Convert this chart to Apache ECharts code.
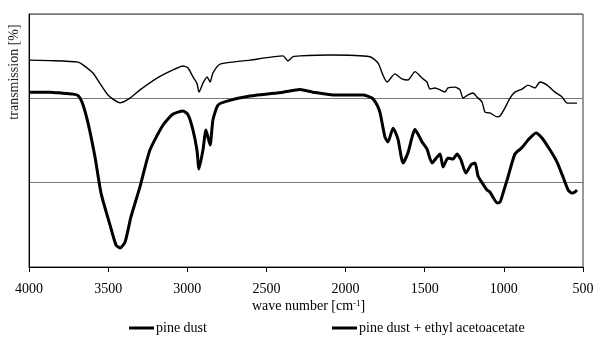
<!DOCTYPE html>
<html>
<head>
<meta charset="utf-8">
<script src="https://cdn.jsdelivr.net/npm/echarts@6/dist/echarts.min.js"></script>
<style>
  html, body { margin: 0; padding: 0; background: #fff; }
  #chart { width: 600px; height: 342px; }
</style>
</head>
<body>
<div id="chart"></div>
<script>
// IR spectra: [wave number cm^-1, transmission]
var pineDust = [
  [4000, 73.6], [3867, 73.4], [3690, 72.9], [3659, 71.9], [3596, 69.0], [3501, 61.2],
  [3425, 58.4], [3362, 60.1], [3299, 63.0], [3191, 67.2], [3090, 70.1], [3027, 71.5],
  [2995, 70.8], [2964, 67.6], [2939, 65.4], [2926, 62.2], [2901, 65.4], [2875, 67.6],
  [2856, 65.8], [2838, 69.0], [2793, 72.2], [2604, 73.6], [2395, 75.1], [2364, 73.3],
  [2332, 74.8], [2288, 75.1], [2098, 75.4], [1846, 74.8], [1795, 72.6], [1764, 68.3],
  [1738, 65.8], [1688, 68.7], [1644, 66.9], [1606, 66.5], [1561, 69.5], [1517, 67.2],
  [1486, 65.8], [1467, 63.3], [1435, 63.7], [1403, 63.0], [1372, 62.2], [1353, 63.7],
  [1309, 64.0], [1277, 63.0], [1258, 60.1], [1227, 61.2], [1195, 61.9], [1170, 60.5],
  [1138, 58.7], [1119, 55.1], [1088, 54.8], [1043, 53.4], [1024, 53.7], [993, 56.6],
  [961, 60.1], [930, 62.2], [885, 63.3], [847, 64.7], [803, 63.7], [772, 65.8],
  [727, 64.7], [677, 62.2], [632, 60.5], [601, 58.3], [570, 58.3], [538, 58.3]
];

var pineDustEaa = [
  [4000, 62.2], [3867, 62.2], [3798, 61.9], [3722, 61.5], [3690, 61.0], [3665, 58.7],
  [3627, 51.2], [3583, 39.1], [3545, 26.3], [3488, 14.9], [3450, 7.8], [3425, 6.8],
  [3393, 8.9], [3356, 17.8], [3299, 28.5], [3236, 41.6], [3153, 50.5], [3090, 54.4],
  [3027, 55.5], [2995, 54.1], [2964, 48.7], [2939, 41.6], [2926, 34.9], [2901, 41.6],
  [2882, 48.7], [2856, 43.4], [2838, 52.3], [2806, 57.6], [2749, 59.0], [2604, 60.8],
  [2395, 62.2], [2288, 63.1], [2206, 62.2], [2079, 61.2], [1890, 61.2], [1833, 60.1],
  [1801, 57.6], [1782, 54.8], [1751, 46.2], [1732, 44.5], [1700, 49.4], [1669, 45.5],
  [1637, 37.0], [1606, 40.6], [1561, 48.9], [1517, 44.5], [1486, 42.0], [1454, 37.0],
  [1422, 39.1], [1403, 40.2], [1384, 35.6], [1353, 38.8], [1321, 38.4], [1296, 40.2],
  [1271, 38.1], [1240, 33.4], [1208, 36.3], [1182, 37.0], [1163, 32.4], [1132, 29.5],
  [1106, 27.4], [1088, 26.7], [1069, 24.9], [1043, 22.8], [1024, 23.1], [1005, 26.3],
  [974, 32.0], [930, 40.2], [885, 42.5], [847, 45.2], [797, 47.7], [759, 45.9],
  [708, 41.6], [664, 37.3], [626, 32.0], [594, 27.4], [570, 26.3], [551, 26.7], [538, 27.4]
];

var seriesNames = ['pine dust', 'pine dust + ethyl acetoacetate'];
var xTicks = { min: 500, max: 4000, step: 500 };
var yRange = { min: 0, max: 90, step: 30 };

var FONT = '"Liberation Serif", "Times New Roman", serif';
var chart = echarts.init(document.getElementById('chart'), null, { renderer: 'canvas' });

function legendFor(name, left) {
  return {
    data: [name], left: left, top: 321, padding: 0,
    icon: 'rect', itemWidth: 25, itemHeight: 3, itemGap: 2,
    textStyle: { fontFamily: FONT, fontSize: 14, color: '#000', padding: [0, 0, 0, -3] }
  };
}

chart.setOption({
  animation: false,
  backgroundColor: '#fff',
  textStyle: { fontFamily: FONT, color: '#000' },
  grid: {
    left: 29, right: 17, top: 14, bottom: 75,
    show: true, borderColor: '#333', borderWidth: 1
  },
  xAxis: {
    type: 'value',
    inverse: true,
    min: xTicks.min, max: xTicks.max, interval: xTicks.step,
    axisLine: { show: true, lineStyle: { color: '#000', width: 1 } },
    axisTick: { show: true, inside: false, length: 5, lineStyle: { color: '#000' } },
    axisLabel: {
      fontFamily: FONT, fontSize: 14, color: '#000', margin: 15,
      formatter: function (v) { return String(v); }
    },
    splitLine: { show: false }
  },
  yAxis: {
    type: 'value',
    min: yRange.min, max: yRange.max, interval: yRange.step,
    axisLine: { show: true, lineStyle: { color: '#000', width: 1 } },
    axisTick: { show: false },
    axisLabel: { show: false },
    splitLine: { show: true, lineStyle: { color: '#777', width: 1 } }
  },
  legend: [legendFor(seriesNames[0], 129), legendFor(seriesNames[1], 332)],
  graphic: [
    {
      type: 'text',
      left: 252, top: 299,
      style: {
        text: '{n|wave number [cm}{s|-1}{n|]}',
        rich: {
          n: { fontFamily: FONT, fontSize: 14, fill: '#000' },
          s: { fontFamily: FONT, fontSize: 9, fill: '#000', verticalAlign: 'top', padding: [0, 0, 6, 0] }
        }
      }
    },
    {
      type: 'text',
      x: 14, y: 72,
      rotation: Math.PI / 2,
      style: {
        text: 'transmission [%]',
        fontFamily: FONT, fontSize: 14, fill: '#222',
        align: 'center', verticalAlign: 'middle'
      }
    }
  ],
  series: [
    {
      name: seriesNames[0], type: 'line', data: pineDust,
      showSymbol: false, symbol: 'none', smooth: 0.2,
      lineStyle: { color: '#000', width: 1.4 }, itemStyle: { color: '#000' }
    },
    {
      name: seriesNames[1], type: 'line', data: pineDustEaa,
      showSymbol: false, symbol: 'none', smooth: 0.2,
      lineStyle: { color: '#000', width: 3 }, itemStyle: { color: '#000' }
    }
  ]
});
</script>
</body>
</html>
